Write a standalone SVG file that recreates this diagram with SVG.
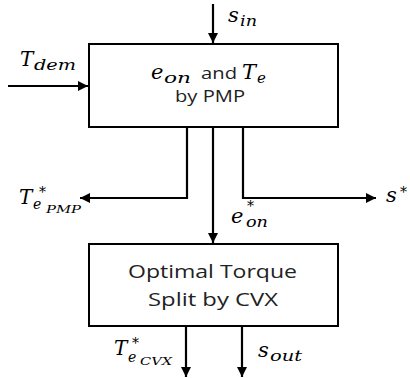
<svg xmlns="http://www.w3.org/2000/svg" width="410" height="378" viewBox="0 0 410 378">
<style>
.box{fill:#fff;stroke:#000;stroke-width:2}
.ln{fill:none;stroke:#000;stroke-width:2.2}
.sans{font-family:"Open Sans","Liberation Sans",sans-serif;fill:#222}
.m{font-family:"DejaVu Serif","Liberation Serif",serif;font-style:italic;fill:#000}
</style>
<defs>
<marker id="ah" markerUnits="userSpaceOnUse" markerWidth="12" markerHeight="12" refX="10" refY="5" orient="auto">
<path d="M0,0 L10,5 L0,10 Z" fill="#000"/>
</marker>
</defs>
<rect width="410" height="378" fill="#fff"/>
<g id="connectors">
<line class="ln" x1="213" y1="4" x2="213" y2="43" marker-end="url(#ah)"/>
<line class="ln" x1="8" y1="86" x2="88" y2="86" marker-end="url(#ah)"/>
<polyline class="ln" points="187,127 187,198 80,198" marker-end="url(#ah)"/>
<line class="ln" x1="213" y1="127" x2="213" y2="243" marker-end="url(#ah)"/>
<polyline class="ln" points="243,127 243,198 376,198" marker-end="url(#ah)"/>
<line class="ln" x1="186" y1="326" x2="186" y2="377" marker-end="url(#ah)"/>
<line class="ln" x1="242" y1="326" x2="242" y2="377" marker-end="url(#ah)"/>
</g>
<g id="pmp">
<rect class="box" x="89" y="44" width="249" height="83"/>
<text class="m" x="151" y="79" font-size="21">e</text>
<text class="m" x="164" y="83" font-size="15" textLength="27" lengthAdjust="spacingAndGlyphs">on</text>
<text class="sans" x="201" y="79" font-size="17" textLength="36" lengthAdjust="spacingAndGlyphs">and</text>
<text class="m" x="242" y="79" font-size="21">T</text>
<text class="m" x="257" y="83" font-size="15">e</text>
<text class="sans" x="175" y="102" font-size="17" textLength="70" lengthAdjust="spacingAndGlyphs">by PMP</text>
</g>
<g id="cvx">
<rect class="box" x="89" y="244" width="249" height="82"/>
<text class="sans" x="128" y="278" font-size="19" textLength="169" lengthAdjust="spacingAndGlyphs">Optimal Torque</text>
<text class="sans" x="148" y="306" font-size="19" textLength="130" lengthAdjust="spacingAndGlyphs">Split by CVX</text>
</g>
<g id="labels">
<text class="m" x="228" y="22" font-size="21">s</text>
<text class="m" x="240" y="26" font-size="15" textLength="17" lengthAdjust="spacingAndGlyphs">in</text>
<text class="m" x="20" y="66" font-size="20">T</text>
<text class="m" x="34" y="70" font-size="15" textLength="42" lengthAdjust="spacingAndGlyphs">dem</text>
<text class="m" x="19" y="204" font-size="20">T</text>
<text class="m" x="39" y="197" font-size="14">*</text>
<text class="m" x="33" y="209" font-size="14">e</text>
<text class="m" x="46" y="213" font-size="11" textLength="35" lengthAdjust="spacingAndGlyphs">PMP</text>
<text class="m" x="386" y="202" font-size="21">s</text>
<text class="m" x="400" y="197" font-size="14">*</text>
<text class="m" x="231" y="223" font-size="21">e</text>
<text class="m" x="247" y="211" font-size="14">*</text>
<text class="m" x="246" y="227" font-size="14" textLength="22" lengthAdjust="spacingAndGlyphs">on</text>
<text class="m" x="114" y="355" font-size="20">T</text>
<text class="m" x="132" y="348" font-size="14">*</text>
<text class="m" x="128" y="362" font-size="14">e</text>
<text class="m" x="140" y="365" font-size="11" textLength="32" lengthAdjust="spacingAndGlyphs">CVX</text>
<text class="m" x="258" y="357" font-size="21">s</text>
<text class="m" x="270" y="361" font-size="15" textLength="32" lengthAdjust="spacingAndGlyphs">out</text>
</g>
</svg>
